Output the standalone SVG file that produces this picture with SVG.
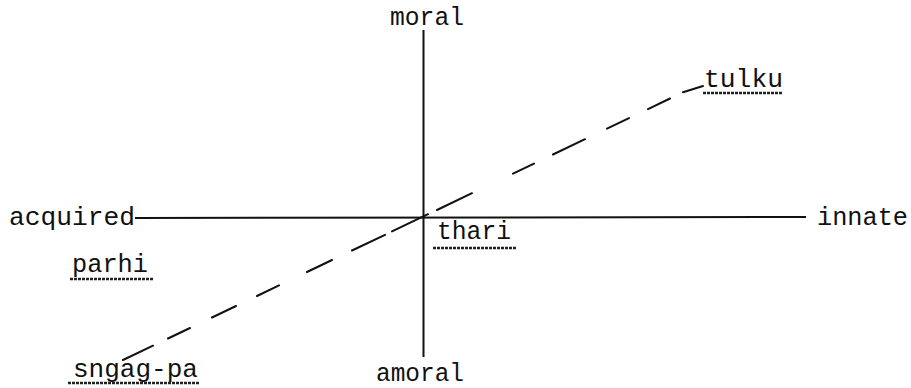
<svg xmlns="http://www.w3.org/2000/svg" width="911" height="388" viewBox="0 0 911 388">
  <style>
    .lbl { font-family: "Liberation Mono", "DejaVu Sans Mono", monospace; font-size: 25px; fill: #111; }
    .axis { stroke: #111; stroke-width: 2; fill: none; }
    .dash { stroke: #111; stroke-width: 2; fill: none; stroke-linecap: round; }
    .ul { stroke: #222; stroke-width: 2.5; stroke-dasharray: 3 1; fill: none; }
  </style>
  <rect width="911" height="388" fill="#ffffff"/>
  <g id="connectors">
    <line class="axis" x1="423.5" y1="30" x2="423.5" y2="357"/>
    <line class="axis" x1="135" y1="218" x2="806" y2="217"/>
    <path class="dash" d="M123,360 L153,345.7 M168,338.5 L190,328 M212,317.5 L236,306 M257,296 L279,285.4 M307,272 L332,260 M352,250.5 L385,234.8 M392,231.4 L428,214.2 M437,210 L472,193.2 M513,173.6 L534,163.6 M553,154.5 L585,139.2 M607,128.6 L629,118.1 M648,109.1 L670,98.5 M683,92.3 L703,86"/>
  </g>
  <g id="moral"><text class="lbl" x="390" y="25" textLength="74" lengthAdjust="spacingAndGlyphs">moral</text></g>
  <g id="amoral"><text class="lbl" x="376" y="381" textLength="88" lengthAdjust="spacingAndGlyphs">amoral</text></g>
  <g id="acquired"><text class="lbl" x="9" y="225" textLength="126" lengthAdjust="spacingAndGlyphs">acquired</text></g>
  <g id="innate"><text class="lbl" x="817" y="225" textLength="91" lengthAdjust="spacingAndGlyphs">innate</text></g>
  <g id="tulku">
    <text class="lbl" x="704" y="87" textLength="79" lengthAdjust="spacingAndGlyphs">tulku</text>
    <line class="ul" x1="703" y1="93" x2="783" y2="93"/>
  </g>
  <g id="thari">
    <text class="lbl" x="437" y="239" textLength="74" lengthAdjust="spacingAndGlyphs">thari</text>
    <line class="ul" x1="433" y1="248" x2="517" y2="248"/>
  </g>
  <g id="parhi">
    <text class="lbl" x="72" y="272" textLength="76" lengthAdjust="spacingAndGlyphs">parhi</text>
    <line class="ul" x1="70" y1="279" x2="153" y2="279"/>
  </g>
  <g id="sngag-pa">
    <text class="lbl" x="73" y="377" textLength="125" lengthAdjust="spacingAndGlyphs">sngag-pa</text>
    <line class="ul" x1="68" y1="383" x2="200" y2="383"/>
  </g>
</svg>
